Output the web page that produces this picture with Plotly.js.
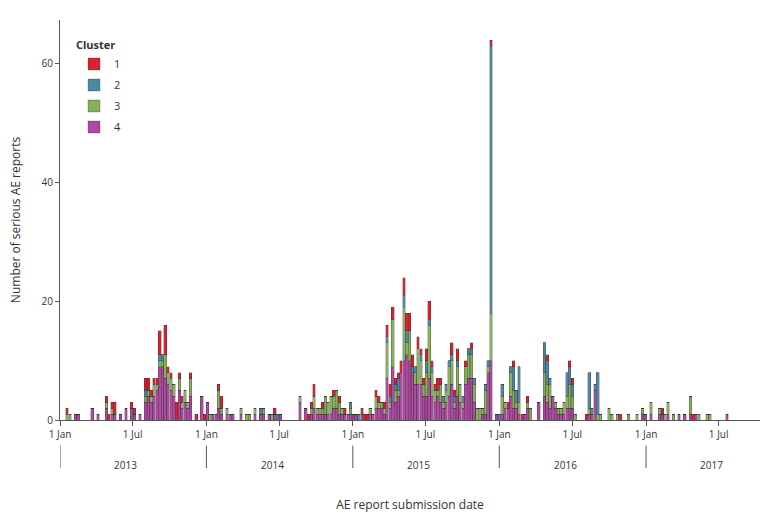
<!DOCTYPE html>
<html>
<head>
<meta charset="utf-8">
<script src="https://cdn.plot.ly/plotly-3.0.1.min.js"></script>
<style>html,body{margin:0;padding:0;background:#fff;}#chart{width:774px;height:521px;}</style>
</head>
<body>
<div id="chart"></div>
<script>
// Week index (weeks since 1 Jan 2013) of each reporting week with AE reports
const weekIndex = [
  2,3,5,6,11,13,16,17,18,19,21,23,25,26,28,30,31,32,33,34,35,36,37,38,39,40,41,42,43,44,45,46,48,50,51,52,
  53,54,55,56,57,59,60,61,64,66,67,69,71,72,74,75,76,77,78,85,87,88,89,90,91,92,93,94,95,96,97,98,99,100,101,102,103,104,
  105,106,107,108,109,110,111,112,113,114,115,116,117,118,119,120,121,122,123,124,125,126,127,128,129,
  130,131,132,133,134,135,136,137,138,139,140,141,142,143,144,145,146,147,148,149,150,151,152,153,155,
  156,157,158,159,160,161,162,163,164,165,166,167,170,172,173,174,175,176,177,178,179,180,181,182,183,
  187,188,189,190,191,192,195,196,198,199,202,205,207,
  208,210,213,214,215,216,218,220,222,224,225,226,227,230,231,237
];
const cluster1 = [
  1,0,0,0,0,0,1,1,1,2,0,0,1,1,0,2,2,1,1,1,4,0,5,1,1,0,3,1,1,0,0,1,1,0,1,0,
  0,0,0,1,2,0,0,0,0,0,0,0,0,0,0,0,1,0,0,0,0,1,1,2,0,0,1,0,0,0,1,0,1,0,1,0,0,0,
  0,0,1,1,1,0,0,1,1,0,1,2,2,2,1,1,2,3,3,3,2,0,2,1,1,
  2,3,1,1,2,1,0,0,0,2,1,2,0,0,1,0,1,0,0,0,0,0,0,1,0,
  0,0,0,1,0,1,0,0,1,0,1,0,0,0,1,0,0,0,0,0,0,0,1,1,0,
  1,0,0,0,0,0,0,0,0,1,0,0,0,
  0,0,0,1,0,0,0,0,0,0,1,0,0,0,0,0
];
const cluster2 = [
  0,0,0,0,0,0,0,0,0,0,0,0,0,0,0,1,0,0,0,0,1,1,0,0,0,0,0,0,0,0,0,0,0,0,0,0,
  0,0,0,0,0,0,0,0,0,0,0,0,1,0,0,0,0,1,0,0,0,0,0,0,0,0,0,0,0,0,0,0,0,0,0,0,1,0,
  0,1,0,0,0,0,0,0,0,0,0,1,1,0,1,2,0,2,2,0,1,1,0,1,0,
  2,1,1,0,0,0,1,1,1,1,1,1,0,1,0,1,1,1,0,0,0,1,1,45,0,
  1,2,0,0,1,4,2,6,0,0,0,0,0,5,4,1,0,0,0,0,0,4,3,2,0,
  0,6,1,1,7,0,0,0,0,0,0,0,0,
  0,0,0,0,0,0,0,0,0,0,0,0,0,0,0,0
];
const cluster3 = [
  1,1,0,0,0,0,1,0,1,0,0,0,0,0,0,1,1,1,2,1,1,1,4,2,2,2,0,2,1,2,1,3,0,0,0,0,
  1,0,0,3,1,1,0,0,1,1,1,1,0,1,0,1,0,0,0,1,0,0,1,2,1,1,1,3,2,3,2,3,2,1,0,0,1,0,
  0,0,0,0,0,1,0,2,1,1,1,6,1,8,2,1,0,9,2,5,0,2,6,4,2,
  4,9,4,2,1,3,1,2,5,4,1,5,3,1,3,4,4,3,2,2,1,4,1,8,0,
  0,3,1,0,4,3,1,2,0,0,1,2,0,4,3,4,0,1,1,1,2,2,4,2,1,
  0,1,0,0,1,1,2,1,1,0,1,1,1,
  0,2,1,0,1,2,1,0,0,3,0,0,1,1,1,0
];
const cluster4 = [
  0,0,1,1,2,1,2,0,1,1,1,2,2,1,1,3,4,3,4,5,9,9,7,6,5,4,0,5,2,3,2,4,0,4,0,3,
  0,1,1,2,1,1,1,1,1,0,0,1,1,1,1,0,1,0,1,3,2,0,1,2,1,1,1,1,1,1,2,2,1,1,1,1,1,1,
  1,0,1,0,0,1,1,2,2,2,1,7,2,9,3,4,8,10,11,10,8,6,6,6,4,
  4,7,4,3,4,3,2,3,4,6,2,4,3,2,6,7,7,3,0,0,1,1,8,10,1,
  0,1,2,2,4,2,2,1,0,1,2,0,3,4,3,2,4,2,1,1,1,2,2,2,0,
  0,1,1,5,0,0,0,0,0,0,0,0,1,
  1,1,1,1,0,1,0,1,1,1,0,1,0,0,0,1
];
const clusterNames = ['1','2','3','4'];
const clusterColors = ['#d9222f','#4e88a2','#86b05b','#ab4a9e'];
const years = ['2013','2014','2015','2016','2017'];
const tickDates = ['2013-01-01','2013-07-01','2014-01-01','2014-07-01','2015-01-01','2015-07-01','2016-01-01','2016-07-01','2017-01-01','2017-07-01'];
const tickLabels = ['1 Jan','1 Jul','1 Jan','1 Jul','1 Jan','1 Jul','1 Jan','1 Jul','1 Jan','1 Jul'];

const DAY = 86400000;
const start = Date.UTC(2013, 0, 1);
function fmt(ms){ const s = new Date(ms).toISOString(); return s.slice(0,10) + ' ' + s.slice(11,16); }
const xDates = weekIndex.map(w => fmt(start + (w * 7 + 3.5) * DAY));

const series = [cluster1, cluster2, cluster3, cluster4];
const FONT = '"Open Sans", "DejaVu Sans", sans-serif';
// stack from bottom: cluster 4, 3, 2, 1
const traces = [3,2,1,0].map(k => ({
  type: 'bar',
  name: clusterNames[k],
  legendgroup: 'c' + clusterNames[k],
  legendrank: k + 1,
  x: xDates,
  y: series[k],
  width: 7 * DAY * 0.94,
  marker: { color: clusterColors[k], line: { color: 'rgba(40,40,40,0.45)', width: 0.6 } },
  hoverinfo: 'x+y+name'
}));

const shapes = years.map(y => ({
  type: 'line', xref: 'x', yref: 'paper',
  x0: y + '-01-01', x1: y + '-01-01', y0: -0.064, y1: -0.12,
  line: { color: '#555', width: 1 }
}));
const annotations = years.map(y => ({
  xref: 'x', yref: 'paper', x: y + '-06-14', y: -0.113,
  text: y, showarrow: false, xanchor: 'center', yanchor: 'middle',
  font: { family: FONT, size: 10, color: '#333' }
}));

const layout = {
  width: 774, height: 521,
  margin: { l: 60, r: 14, t: 20, b: 101 },
  paper_bgcolor: '#fff', plot_bgcolor: '#fff',
  barmode: 'stack', bargap: 0,
  font: { family: FONT, color: '#333' },
  showlegend: true,
  legend: {
    x: 0.02, y: 0.962, xanchor: 'left', yanchor: 'top',
    traceorder: 'grouped',
    tracegroupgap: 2,
    title: { text: '<b>Cluster</b>', font: { family: FONT, size: 11, color: '#333' } },
    font: { family: FONT, size: 11, color: '#333' },
    bgcolor: 'rgba(0,0,0,0)', itemwidth: 30
  },
  xaxis: {
    type: 'date',
    range: ['2013-01-01', '2017-10-12'],
    tickmode: 'array', tickvals: tickDates, ticktext: tickLabels,
    ticks: 'outside', ticklen: 5, tickcolor: '#555',
    showline: true, linecolor: '#555', linewidth: 1,
    showgrid: false, zeroline: false,
    tickfont: { family: FONT, size: 10, color: '#333' },
    title: { text: 'AE report submission date', font: { family: FONT, size: 12, color: '#333' }, standoff: 60 }
  },
  yaxis: {
    range: [0, 67.4],
    tickmode: 'array', tickvals: [0, 20, 40, 60],
    ticks: 'outside', ticklen: 4, tickcolor: '#555',
    showline: true, linecolor: '#555', linewidth: 1,
    showgrid: false, zeroline: false,
    tickfont: { family: FONT, size: 10, color: '#333' },
    title: { text: 'Number of serious AE reports', font: { family: FONT, size: 12, color: '#333' }, standoff: 18 }
  },
  shapes: shapes,
  annotations: annotations
};

Plotly.newPlot('chart', traces, layout, { displayModeBar: false, staticPlot: true });
</script>
</body>
</html>
